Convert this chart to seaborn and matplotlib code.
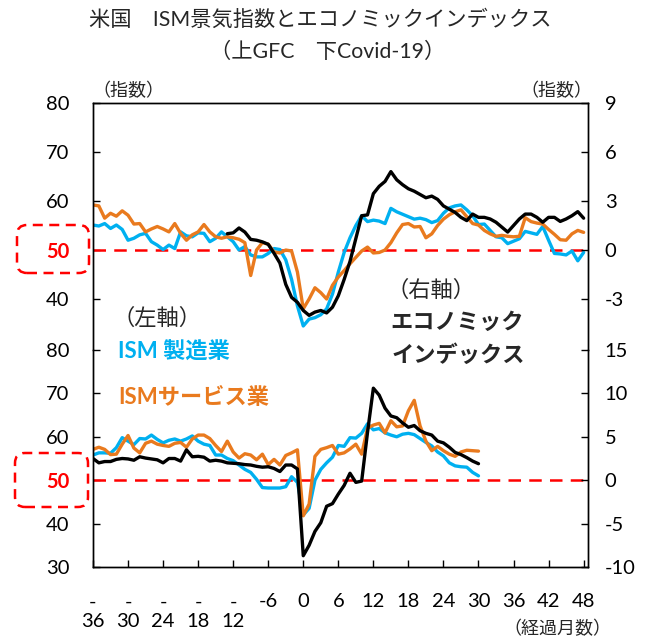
import numpy as np
import pandas as pd
import matplotlib
matplotlib.use("Agg")
import matplotlib.pyplot as plt
import seaborn as sns
from matplotlib.patches import FancyBboxPatch
from matplotlib.transforms import IdentityTransform

# ---- data ----
months_gfc = list(range(-36, 49))
ism_mfg_gfc = [55.1, 54.9, 55.4, 54.4, 55.1, 54.2, 52.0, 52.4, 53.1, 53.4, 51.7, 51.0, 50.1, 51.0,
               50.3, 53.7, 52.9, 52.7, 53.5, 53.4, 51.7, 52.4, 53.7, 52.7, 51.7, 50.0, 50.7,
               49.0, 48.6, 48.6, 49.3, 50.3, 50.1, 48.0, 44.0, 38.6,
               34.5, 35.9, 36.2, 36.8, 38.0, 41.0, 45.5, 49.5, 52.5, 55.0, 57.0, 55.8, 56.1, 55.9,
               55.4, 58.5, 57.8, 57.3, 56.8, 56.3, 56.5, 56.2, 55.6, 56.0, 57.5, 58.6, 59.0, 59.2,
               58.2, 57.0, 55.2, 55.3, 54.0, 52.7, 52.5, 51.3, 51.8, 52.3, 53.8, 53.5, 53.2, 54.8,
               52.0, 49.3, 49.2, 49.0, 49.8, 47.8, 49.5]
ism_svc_gfc = [59.2, 59.0, 56.5, 57.5, 56.9, 58.0, 57.1, 55.3, 55.4, 53.7, 54.3, 54.8, 54.3, 53.7,
               55.4, 53.4, 52.0, 53.1, 53.7, 55.2, 53.7, 52.7, 52.4, 52.7, 52.5, 52.2, 51.5,
               44.8, 50.0, 51.5, 51.2, 49.6, 49.4, 50.0, 49.8, 45.5,
               38.0, 40.0, 42.3, 41.3, 40.0, 42.8, 44.5, 45.8, 47.2, 48.5, 49.8, 50.6, 49.4, 49.5,
               50.0, 51.5, 53.5, 55.2, 55.4, 54.7, 54.8, 52.5, 53.3, 55.0, 56.3, 57.2, 57.8, 58.2,
               56.8, 55.4, 55.1, 54.0, 53.3, 52.8, 53.0, 52.8, 52.7, 52.8, 56.6, 55.8, 55.5, 55.3,
               54.2, 53.2, 52.1, 52.0, 53.3, 54.0, 53.6]
econ_months_gfc = list(range(-13, 49))
econ_gfc = [1.0, 1.05, 1.35, 1.1, 0.65, 0.6, 0.5, 0.35, -0.2, -0.8, -2.1, -2.9, -3.2,
            -3.7, -4.0, -3.8, -3.7, -3.85, -3.5, -2.8, -1.8, -0.7, 0.7, 2.1, 2.15, 3.45, 3.9,
            4.2, 4.8, 4.3, 4.0, 3.75, 3.6, 3.4, 3.2, 3.3, 3.1, 2.7, 2.5, 2.3, 2.0, 1.8, 2.2,
            2.0, 2.0, 1.9, 1.7, 1.4, 1.1, 1.5, 1.9, 2.2, 2.2, 2.0, 1.7, 2.0, 2.0, 1.75, 1.9,
            2.1, 2.35, 1.95]

months_covid = list(range(-36, 31))
ism_mfg_covid = [55.8, 56.3, 56.3, 56.2, 57.5, 59.8, 59.0, 58.2, 59.6, 59.5, 60.4, 59.4, 58.6, 59.2,
                 59.5, 59.0, 59.5, 60.2, 59.0, 58.3, 58.0, 55.8, 55.8, 55.0, 54.5, 53.5, 52.5, 51.8,
                 50.2, 48.3, 48.2, 48.2, 48.2, 48.5, 50.8, 49.5,
                 42.0, 43.5, 50.0, 52.5, 54.0, 55.3, 58.0, 57.8, 59.8, 59.7, 60.8, 63.0, 61.6, 61.9,
                 60.9, 60.4, 60.0, 60.6, 60.8, 60.5, 59.6, 58.7, 57.9, 56.5, 55.6, 54.0, 53.3, 53.1,
                 53.0, 51.8, 51.0]
ism_svc_covid = [57.1, 57.6, 57.1, 55.9, 56.0, 58.3, 60.3, 57.4, 56.3, 58.5, 59.0, 58.3, 58.0, 57.8,
                 58.5, 58.7, 57.6, 59.5, 60.4, 60.4, 59.6, 58.0, 56.6, 59.0, 56.5, 55.1, 56.1, 55.8,
                 54.7, 56.0, 53.6, 54.8, 53.5, 55.7, 56.3, 57.0,
                 41.8, 44.5, 55.5, 57.1, 57.5, 58.0, 56.0, 56.3, 57.2, 58.3, 56.0, 62.0, 62.7, 63.1,
                 60.9, 63.7, 62.3, 62.5, 66.0, 68.4, 62.5, 59.0, 56.8, 57.8, 56.8, 56.0, 55.5, 56.5,
                 56.9, 56.8, 56.7]
econ_covid = [2.5, 2.0, 2.15, 2.15, 2.4, 2.5, 2.45, 2.3, 2.7, 2.55, 2.45, 2.35, 2.0, 2.5,
              2.5, 2.2, 3.5, 2.7, 2.75, 2.65, 2.2, 2.3, 2.2, 2.0, 1.95, 1.9, 1.8, 1.75,
              1.6, 1.5, 1.55, 1.35, 1.0, 1.75, 1.75, 1.3,
              -8.7, -7.5, -5.9, -4.9, -3.0, -2.7, -1.6, -0.6, 0.8, -0.25, -0.1, 5.5, 10.6, 9.8,
              8.3, 7.4, 7.2, 6.6, 6.1, 6.3, 5.7, 5.4, 5.2, 4.5, 4.3, 3.8, 3.2, 2.95,
              2.6, 2.2, 1.9]

x_ticks = list(range(-36, 49, 6))
x_labels = ["-\n36", "-\n30", "-\n24", "-\n18", "-\n12", "-6", "0", "6", "12", "18",
            "24", "30", "36", "42", "48"]

CYAN = "#00B0F0"
ORANGE = "#E97A1E"
RED = "#FF0000"

sns.set_theme(style="white")
plt.rcParams['font.family'] = ['Lato', 'Noto Sans CJK JP', 'DejaVu Sans']

W, H = 662, 639
fig = plt.figure(figsize=(W / 100, H / 100), dpi=100)


def px_box(l, t, r, b):
    return [l / W, 1 - b / H, (r - l) / W, (b - t) / H]


def draw_panel(ax, df, econ_df, ylim_l, ylim_r, lticks, rticks):
    ax.axhline(50, color=RED, lw=1.8, dashes=(5, 3.3), zorder=1)
    sns.lineplot(data=df, x="month", y="mfg", ax=ax, color=CYAN, lw=2.4)
    sns.lineplot(data=df, x="month", y="svc", ax=ax, color=ORANGE, lw=2.4)
    axr = ax.twinx()
    sns.lineplot(data=econ_df, x="month", y="econ", ax=axr, color="black", lw=2.4)

    ax.set_xlim(-36, 48.75)
    ax.set_ylim(*ylim_l)
    axr.set_ylim(*ylim_r)
    ax.set_yticks(lticks)
    ax.set_yticklabels([str(t) for t in lticks])
    axr.set_yticks(rticks)
    axr.set_yticklabels([str(t) for t in rticks])
    for a in (ax, axr):
        a.set_xlabel("")
        a.set_ylabel("")
        for s in a.spines.values():
            s.set_color("black")
            s.set_linewidth(1.0)
    ax.tick_params(axis="y", direction="in", length=5, width=1, pad=17,
                   labelsize=14.5, colors="black", left=True)
    # the 50 line label is highlighted in red bold
    for lab in ax.get_yticklabels():
        if lab.get_text() == "50":
            lab.set_color(RED)
            lab.set_fontweight("bold")
    axr.tick_params(axis="y", direction="in", length=5, width=1, pad=12,
                    labelsize=14.5, colors="black", right=True)
    return axr


gfc = pd.DataFrame({"month": months_gfc, "mfg": ism_mfg_gfc, "svc": ism_svc_gfc})
gfc_econ = pd.DataFrame({"month": econ_months_gfc, "econ": econ_gfc})
covid = pd.DataFrame({"month": months_covid, "mfg": ism_mfg_covid, "svc": ism_svc_covid})
covid_econ = pd.DataFrame({"month": months_covid, "econ": econ_covid})

# top panel: GFC
ax1 = fig.add_axes(px_box(93, 103, 588, 350))
ax1r = draw_panel(ax1, gfc, gfc_econ, (29.6, 80), (-6.12, 9),
                  [40, 50, 60, 70, 80], [-3, 0, 3, 6, 9])
ax1.tick_params(axis="x", bottom=False, labelbottom=False)
for a in (ax1, ax1r):
    a.spines["bottom"].set_visible(False)

# bottom panel: Covid-19
ax2 = fig.add_axes(px_box(93, 350, 588, 567))
ax2r = draw_panel(ax2, covid, covid_econ, (30, 80), (-10, 15),
                  [30, 40, 50, 60, 70, 80], [-10, -5, 0, 5, 10, 15])
for a in (ax2, ax2r):
    a.spines["top"].set_visible(False)
ax2.set_xticks(x_ticks)
ax2.set_xticklabels(x_labels)
ax2.tick_params(axis="x", direction="in", length=5, width=1, pad=19,
                labelsize=14.5, colors="black", bottom=True)

# dashed boxes around the red 50 labels
for (l, t, r, b) in [(17, 225, 89, 273), (15, 453, 88, 507)]:
    fig.add_artist(FancyBboxPatch((l, H - b), r - l, b - t,
                                  boxstyle="round,pad=0,rounding_size=10",
                                  fill=False, ec=RED, lw=1.8, ls=(0, (4, 2.6)),
                                  transform=IdentityTransform()))


def ftext(x, y, s, **kw):
    fig.text(x / W, 1 - y / H, s, va="center", **kw)


ftext(320, 20, "米国　ISM景気指数とエコノミックインデックス", ha="center", fontsize=15.3)
ftext(328, 52, "（上GFC　下Covid-19）", ha="center", fontsize=15.3)
ftext(128, 90, "（指数）", ha="center", fontsize=13)
ftext(556, 90, "（指数）", ha="center", fontsize=13)
ftext(557, 628, "（経過月数）", ha="center", fontsize=13)

ftext(113, 318, "（左軸）", ha="left", fontsize=16)
ftext(118, 352, "ISM 製造業", ha="left", fontsize=16, color=CYAN, fontweight="bold")
ftext(118, 397, "ISMサービス業", ha="left", fontsize=16, color=ORANGE, fontweight="bold")
ftext(386, 290, "（右軸）", ha="left", fontsize=16)
ftext(390, 322, "エコノミック", ha="left", fontsize=16, fontweight="bold")
ftext(392, 355, "インデックス", ha="left", fontsize=16, fontweight="bold")

fig.savefig("out.png", dpi=100)
